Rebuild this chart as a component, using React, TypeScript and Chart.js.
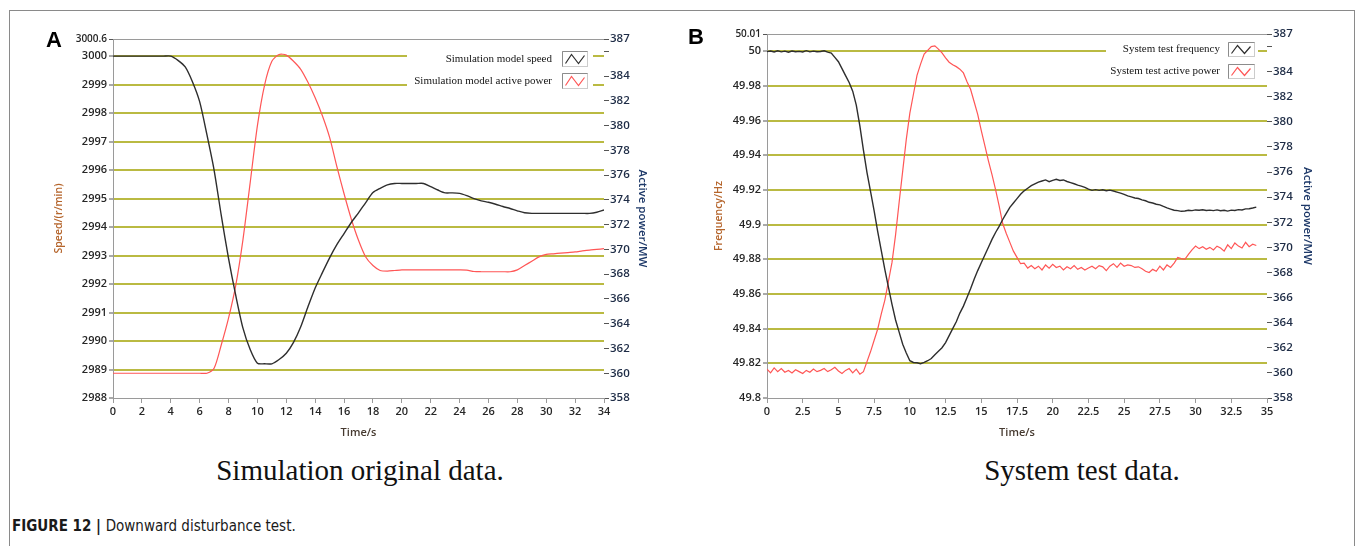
import React, { useEffect, useRef } from 'react';
import { Chart, registerables } from 'chart.js';
Chart.register(...registerables);

// ---------------- Data: panel A (simulation) ----------------
const timeA = [
  0, 0.5, 1, 1.5, 2, 2.5, 3, 3.5, 4, 4.5, 5, 5.5, 6, 6.5, 7, 7.5, 8, 8.5, 9, 9.5,
  10, 10.5, 11, 11.5, 12, 12.5, 13, 13.5, 14, 14.5, 15, 15.5, 16, 16.5, 17, 17.5, 18, 18.5, 19, 19.5,
  20, 20.5, 21, 21.5, 22, 22.5, 23, 23.5, 24, 24.5, 25, 25.5, 26, 26.5, 27, 27.5, 28, 28.5, 29, 29.5,
  30, 30.5, 31, 31.5, 32, 32.5, 33, 33.5, 34,
];
const speedA = [
  3000, 3000, 3000, 3000, 3000, 3000, 3000, 3000, 3000, 2999.85,
  2999.62, 2999.1, 2998.4, 2997.25, 2996.0, 2994.4, 2992.9, 2991.6, 2990.45, 2989.7,
  2989.22, 2989.2, 2989.2, 2989.35, 2989.57, 2989.95, 2990.5, 2991.2, 2991.86, 2992.4,
  2992.92, 2993.38, 2993.77, 2994.16, 2994.5, 2994.86, 2995.21, 2995.36, 2995.48, 2995.53,
  2995.53, 2995.53, 2995.53, 2995.53, 2995.42, 2995.3, 2995.2, 2995.2, 2995.18, 2995.1,
  2995.0, 2994.92, 2994.87, 2994.8, 2994.72, 2994.65, 2994.57, 2994.5, 2994.48, 2994.48,
  2994.48, 2994.48, 2994.48, 2994.48, 2994.48, 2994.48, 2994.48, 2994.52, 2994.6,
];
const powerA = [
  360, 360, 360, 360, 360, 360, 360, 360, 360, 360,
  360, 360, 360, 360, 360.4, 362.3, 364.45, 367.1, 370.8, 375.4,
  380.0, 383.3, 385.2, 385.75, 385.7, 385.2, 384.55, 383.5, 382.25, 380.8,
  379.05, 376.7, 374.5, 372.46, 370.74, 369.39, 368.7, 368.3, 368.25, 368.3,
  368.35, 368.35, 368.35, 368.35, 368.35, 368.35, 368.35, 368.35, 368.35, 368.33,
  368.22, 368.2, 368.2, 368.2, 368.2, 368.2, 368.35, 368.7, 369.05, 369.4,
  369.6, 369.65, 369.7, 369.75, 369.8, 369.88, 369.95, 370.0, 370.06,
];

// ---------------- Data: panel B (system test) ----------------
const timeB = [
  0, 0.25, 0.5, 0.75, 1, 1.25, 1.5, 1.75, 2, 2.25, 2.5, 2.75, 3, 3.25, 3.5, 3.75,
  4, 4.25, 4.5, 4.75, 5, 5.25, 5.5, 5.75, 6, 6.25, 6.5, 6.75, 7, 7.25, 7.5, 7.75,
  8, 8.25, 8.5, 8.75, 9, 9.25, 9.5, 9.75, 10, 10.25, 10.5, 10.75, 11, 11.25, 11.5, 11.75,
  12, 12.25, 12.5, 12.75, 13, 13.25, 13.5, 13.75, 14, 14.25, 14.5, 14.75, 15, 15.25, 15.5, 15.75,
  16, 16.25, 16.5, 16.75, 17, 17.25, 17.5, 17.75, 18, 18.25, 18.5, 18.75, 19, 19.25, 19.5, 19.75,
  20, 20.25, 20.5, 20.75, 21, 21.25, 21.5, 21.75, 22, 22.25, 22.5, 22.75, 23, 23.25, 23.5, 23.75,
  24, 24.25, 24.5, 24.75, 25, 25.25, 25.5, 25.75, 26, 26.25, 26.5, 26.75, 27, 27.25, 27.5, 27.75,
  28, 28.25, 28.5, 28.75, 29, 29.25, 29.5, 29.75, 30, 30.25, 30.5, 30.75, 31, 31.25, 31.5, 31.75,
  32, 32.25, 32.5, 32.75, 33, 33.25, 33.5, 33.75, 34, 34.25,
];
const freqB = [
  49.9998, 50.0002, 49.9996, 50.0003,
  49.9997, 50.0001, 49.9995, 50.0002,
  49.9998, 50.0, 49.9996, 50.0004,
  49.9997, 50.0001, 49.9998, 49.9999,
  50.0003, 49.9995, 49.999, 49.9965,
  49.994, 49.99, 49.986, 49.982,
  49.977, 49.969, 49.957, 49.943,
  49.93, 49.919, 49.908, 49.896,
  49.885, 49.874, 49.864, 49.854,
  49.845, 49.838, 49.831, 49.826,
  49.8215, 49.8205, 49.8203, 49.8198,
  49.8205, 49.8215, 49.8228, 49.825,
  49.827, 49.829, 49.832, 49.836,
  49.84, 49.844, 49.849, 49.853,
  49.858, 49.863, 49.8685, 49.8735,
  49.878, 49.8825, 49.887, 49.8915,
  49.8955, 49.899, 49.903, 49.9065,
  49.91, 49.9125, 49.915, 49.9175,
  49.9195, 49.921, 49.9225, 49.9235,
  49.9245, 49.9252, 49.9258, 49.9248,
  49.9256, 49.9262, 49.9255, 49.9258,
  49.9249, 49.9243, 49.9236, 49.9228,
  49.9222, 49.9215, 49.9205, 49.9198,
  49.9202, 49.9198, 49.9201, 49.9196,
  49.9199, 49.9194, 49.9188, 49.9182,
  49.9175, 49.9166, 49.916, 49.9154,
  49.9151, 49.9143, 49.9138, 49.9129,
  49.9125, 49.9118, 49.9114, 49.9105,
  49.9097, 49.909, 49.9083, 49.9081,
  49.9077, 49.9079, 49.9083, 49.9081,
  49.9085, 49.9083, 49.9086, 49.9082,
  49.9084, 49.9081, 49.9085, 49.908,
  49.9083, 49.9078, 49.9084, 49.9082,
  49.9087, 49.9085, 49.9091, 49.9092,
  49.9096, 49.9101,
];
const powerB = [
  360.3, 360.0, 360.4, 360.1,
  360.35, 360.05, 360.2, 360.0,
  360.25, 360.1, 359.95, 360.2,
  360.05, 360.3, 360.1, 360.2,
  360.35, 360.1, 360.25, 360.45,
  360.15, 359.95, 360.2, 360.35,
  360.0, 360.3, 359.9, 360.1,
  360.9, 361.7, 362.6, 363.5,
  364.7, 365.8, 367.3, 368.8,
  371.0, 373.6, 376.1, 378.6,
  380.7, 382.2, 383.7, 384.6,
  385.4, 385.7, 386.0, 386.05,
  385.8, 385.5, 385.1, 384.75,
  384.55, 384.4, 384.2, 383.9,
  383.2, 382.6, 381.6, 380.6,
  379.3, 378.1, 376.9, 375.8,
  374.6, 373.3, 371.9, 371.1,
  370.4, 369.7, 369.2, 368.7,
  368.75, 368.35, 368.55, 368.3,
  368.5, 368.2, 368.6, 368.35,
  368.65, 368.4, 368.5, 368.2,
  368.45, 368.3, 368.55, 368.25,
  368.4, 368.2, 368.35, 368.5,
  368.3, 368.55, 368.45, 368.15,
  368.5, 368.7, 368.4, 368.75,
  368.5, 368.6, 368.55, 368.4,
  368.45, 368.3, 368.1, 368.0,
  368.25, 368.1, 368.5, 368.2,
  368.6, 368.4, 368.75, 369.2,
  369.1, 369.05, 369.45, 369.8,
  370.1, 369.9, 370.05, 369.85,
  370.0, 369.8, 370.1, 369.95,
  369.7, 370.2, 369.9, 370.35,
  370.1, 369.95, 370.4, 370.05,
  370.25, 370.15,
];

// ---------------- Tick values ----------------
const speedTicks = [2988, 2989, 2990, 2991, 2992, 2993, 2994, 2995, 2996, 2997, 2998, 2999, 3000, 3000.6];
const freqTicks = [49.8, 49.82, 49.84, 49.86, 49.88, 49.9, 49.92, 49.94, 49.96, 49.98, 50, 50.01];
const powerTicks = [358, 360, 362, 364, 366, 368, 370, 372, 374, 376, 378, 380, 382, 384, 386, 387];
const hiddenPowerTick = 386;

const legendA = ['Simulation model speed', 'Simulation model active power'];
const legendB = ['System test frequency', 'System test active power'];

// ---------------- Styles ----------------
const OLIVE = 'rgb(186,186,66)';
const AXIS_GRAY = '#9a9a9a';
const BLACK_LINE = '#2e2e2e';
const RED_LINE = '#ff5656';
const TICK_FONT = "'Open Sans', 'Noto Sans', sans-serif";
const TICK_COLOR = '#262626';
const RIGHT_TICK_COLOR = '#1e2c46';
const LEFT_TITLE_COLOR = '#b5652c';
const RIGHT_TITLE_COLOR = '#1d3868';

type LegendCfg = {
  bg: { x: number; y: number; w: number; h: number };
  textRight: number;
  boxX: number;
  boxW: number;
  boxH: number;
  rows: { y: number; boxY: number }[];
  labels: string[];
  colors: string[];
};

function makeLegendPlugin(cfg: LegendCfg) {
  return {
    id: 'boxLegend',
    afterDraw(chart: any) {
      const ctx = chart.ctx as CanvasRenderingContext2D;
      ctx.save();
      ctx.fillStyle = '#ffffff';
      ctx.fillRect(cfg.bg.x, cfg.bg.y, cfg.bg.w, cfg.bg.h);
      ctx.font = "11px 'Liberation Serif', 'Times New Roman', serif";
      ctx.textAlign = 'right';
      ctx.textBaseline = 'middle';
      cfg.rows.forEach((r, i) => {
        ctx.fillStyle = '#141414';
        ctx.fillText(cfg.labels[i], cfg.textRight, r.y);
        const bx = cfg.boxX + 0.5;
        const by = r.boxY + 0.5;
        ctx.lineWidth = 1;
        ctx.strokeStyle = '#cccccc';
        ctx.strokeRect(bx, by, cfg.boxW, cfg.boxH);
        ctx.strokeStyle = '#8c8c8c';
        ctx.beginPath();
        ctx.moveTo(bx, by + cfg.boxH);
        ctx.lineTo(bx, by);
        ctx.lineTo(bx + cfg.boxW, by);
        ctx.stroke();
        ctx.strokeStyle = cfg.colors[i];
        ctx.lineWidth = 1.2;
        ctx.beginPath();
        ctx.moveTo(bx + 3, by + cfg.boxH - 3);
        ctx.lineTo(bx + 9, by + 3);
        ctx.lineTo(bx + 16, by + cfg.boxH - 3);
        ctx.lineTo(bx + 22, by + 4);
        ctx.stroke();
      });
      ctx.restore();
    },
  };
}

type PanelCfg = {
  labels: number[];
  left: number[];
  right: number[];
  leftTicks: number[];
  leftMin: number;
  leftMax: number;
  leftTitle: string;
  xMax: number;
  xStep: number;
  padding: { left: number; right: number; top: number; bottom: number };
  leftWidth: number;
  rightWidth: number;
  xHeight: number;
  legend: LegendCfg;
  tension: number;
};

function fmt(v: number) {
  return String(Number(v.toFixed(3)));
}

function buildConfig(p: PanelCfg): any {
  const topVal = p.leftMax;
  const bottomVal = p.leftMin;
  return {
    type: 'line',
    data: {
      labels: p.labels,
      datasets: [
        {
          data: p.left,
          yAxisID: 'y',
          borderColor: BLACK_LINE,
          borderWidth: 1.4,
          pointRadius: 0,
          tension: p.tension,
          fill: false,
        },
        {
          data: p.right,
          yAxisID: 'y1',
          borderColor: RED_LINE,
          borderWidth: 1.2,
          pointRadius: 0,
          tension: p.tension,
          fill: false,
        },
      ],
    },
    options: {
      responsive: false,
      animation: false,
      devicePixelRatio: 1,
      layout: { padding: p.padding, autoPadding: false },
      plugins: { legend: { display: false }, tooltip: { enabled: false } },
      scales: {
        x: {
          type: 'linear',
          min: 0,
          max: p.xMax,
          afterFit: (s: any) => { s.height = p.xHeight; },
          border: { display: true, color: AXIS_GRAY, width: 1 },
          grid: { drawOnChartArea: false, color: AXIS_GRAY, tickLength: 5 },
          ticks: {
            stepSize: p.xStep,
            autoSkip: false,
            maxRotation: 0,
            padding: 2,
            color: TICK_COLOR,
            font: { family: TICK_FONT, size: 11, weight: '600' },
            callback: (v: any) => fmt(Number(v)),
          },
          title: {
            display: true,
            text: 'Time/s',
            color: '#463a30',
            font: { family: TICK_FONT, size: 11, weight: '600' },
          },
        },
        y: {
          type: 'linear',
          position: 'left',
          min: p.leftMin,
          max: p.leftMax,
          afterFit: (s: any) => { s.width = p.leftWidth; },
          afterBuildTicks: (s: any) => { s.ticks = p.leftTicks.map((v) => ({ value: v })); },
          border: { display: true, color: AXIS_GRAY, width: 1 },
          grid: {
            color: (c: any) => {
              const v = c.tick ? c.tick.value : null;
              if (v === topVal) return AXIS_GRAY;
              if (v === bottomVal) return 'rgba(0,0,0,0)';
              return OLIVE;
            },
            lineWidth: (c: any) => (c.tick && c.tick.value === topVal ? 1 : 2),
            tickColor: '#555555',
            tickWidth: 1,
            tickLength: 4,
          },
          ticks: {
            autoSkip: false,
            padding: 2,
            color: TICK_COLOR,
            font: (c: any) => ({
              family: TICK_FONT,
              size: c.tick && c.tick.value === topVal ? 10 : 11,
              weight: '600',
            }),
            callback: (v: any) => fmt(Number(v)),
          },
          title: {
            display: true,
            text: p.leftTitle,
            color: LEFT_TITLE_COLOR,
            font: { family: TICK_FONT, size: 10.5, weight: '600' },
          },
        },
        y1: {
          type: 'linear',
          position: 'right',
          min: 358,
          max: 387,
          afterFit: (s: any) => { s.width = p.rightWidth; },
          afterBuildTicks: (s: any) => { s.ticks = powerTicks.map((v) => ({ value: v })); },
          border: { display: false },
          grid: { drawOnChartArea: false, color: '#555555', tickLength: 5, tickWidth: 1 },
          ticks: {
            autoSkip: false,
            padding: 1,
            color: RIGHT_TICK_COLOR,
            font: { family: TICK_FONT, size: 11.5, weight: '600' },
            callback: (v: any) => (Number(v) === hiddenPowerTick ? '' : fmt(Number(v))),
          },
          title: {
            display: true,
            text: 'Active power/MW',
            color: RIGHT_TITLE_COLOR,
            font: { family: TICK_FONT, size: 11.5, weight: '600' },
          },
        },
      },
    },
    plugins: [makeLegendPlugin(p.legend)],
  };
}

const panelA: PanelCfg = {
  labels: timeA,
  left: speedA,
  right: powerA,
  leftTicks: speedTicks,
  leftMin: 2988,
  leftMax: 3000.6,
  leftTitle: 'Speed/(r/min)',
  xMax: 34,
  xStep: 2,
  padding: { left: 49, right: 27, top: 39, bottom: 7 },
  leftWidth: 64,
  rightWidth: 49,
  xHeight: 45,
  tension: 0.25,
  legend: {
    bg: { x: 407, y: 44, w: 186, h: 49 },
    textRight: 552,
    boxX: 562,
    boxW: 25,
    boxH: 15,
    rows: [{ y: 59, boxY: 51 }, { y: 81, boxY: 73 }],
    labels: legendA,
    colors: [BLACK_LINE, RED_LINE],
  },
};

const panelB: PanelCfg = {
  labels: timeB,
  left: freqB,
  right: powerB,
  leftTicks: freqTicks,
  leftMin: 49.8,
  leftMax: 50.01,
  leftTitle: 'Frequency/Hz',
  xMax: 35,
  xStep: 2.5,
  padding: { left: 29, right: 39, top: 34, bottom: 7 },
  leftWidth: 58,
  rightWidth: 51,
  xHeight: 45,
  tension: 0,
  legend: {
    bg: { x: 426, y: 38, w: 152, h: 42 },
    textRight: 540,
    boxX: 548,
    boxW: 26,
    boxH: 14,
    rows: [{ y: 49, boxY: 42 }, { y: 71, boxY: 64 }],
    labels: legendB,
    colors: [BLACK_LINE, RED_LINE],
  },
};

function Panel({ cfg, left, width }: { cfg: PanelCfg; left: number; width: number }) {
  const ref = useRef<HTMLCanvasElement | null>(null);
  useEffect(() => {
    if (!ref.current) return;
    const chart = new Chart(ref.current, buildConfig(cfg));
    return () => chart.destroy();
  }, [cfg]);
  return (
    <canvas
      ref={ref}
      width={width}
      height={450}
      style={{ position: 'absolute', left, top: 0, width, height: 450 }}
    />
  );
}

export default function App() {
  const serif = "'Liberation Serif', 'Times New Roman', serif";
  const bold = "'Liberation Sans', Arial, sans-serif";
  return (
    <div
      style={{
        position: 'absolute',
        left: 0,
        top: 0,
        width: 1357,
        height: 546,
        background: '#ffffff',
        overflow: 'hidden',
      }}
    >
      <div
        style={{
          position: 'absolute',
          left: 9,
          top: 10,
          width: 1344,
          height: 600,
          borderLeft: '1.5px solid #8a8a8a',
          borderTop: '1.5px solid #8a8a8a',
          borderRight: '1.5px solid #8a8a8a',
        }}
      />
      <Panel cfg={panelA} left={0} width={680} />
      <Panel cfg={panelB} left={680} width={677} />
      <div style={{ position: 'absolute', left: 46, top: 29, font: `bold 22px ${bold}`, lineHeight: '22px', color: '#000' }}>A</div>
      <div style={{ position: 'absolute', left: 688, top: 26, font: `bold 22px ${bold}`, lineHeight: '22px', color: '#000' }}>B</div>
      <div
        style={{
          position: 'absolute',
          left: 160,
          width: 400,
          top: 455,
          textAlign: 'center',
          font: `29px ${serif}`,
          lineHeight: '30px',
          color: '#111',
        }}
      >
        Simulation original data.
      </div>
      <div
        style={{
          position: 'absolute',
          left: 882,
          width: 400,
          top: 455,
          textAlign: 'center',
          font: `29px ${serif}`,
          lineHeight: '30px',
          color: '#111',
        }}
      >
        System test data.
      </div>
      <div
        style={{
          position: 'absolute',
          left: 12,
          top: 519,
          fontFamily: "'Liberation Sans Narrow', 'DejaVu Sans Condensed', 'Arial Narrow', sans-serif",
          fontSize: 15,
          lineHeight: '15px',
          color: '#1a1a1a',
          whiteSpace: 'nowrap',
        }}
      >
        <span style={{ fontWeight: 'bold' }}>FIGURE 12 | </span>
        <span>Downward disturbance test.</span>
      </div>
    </div>
  );
}
